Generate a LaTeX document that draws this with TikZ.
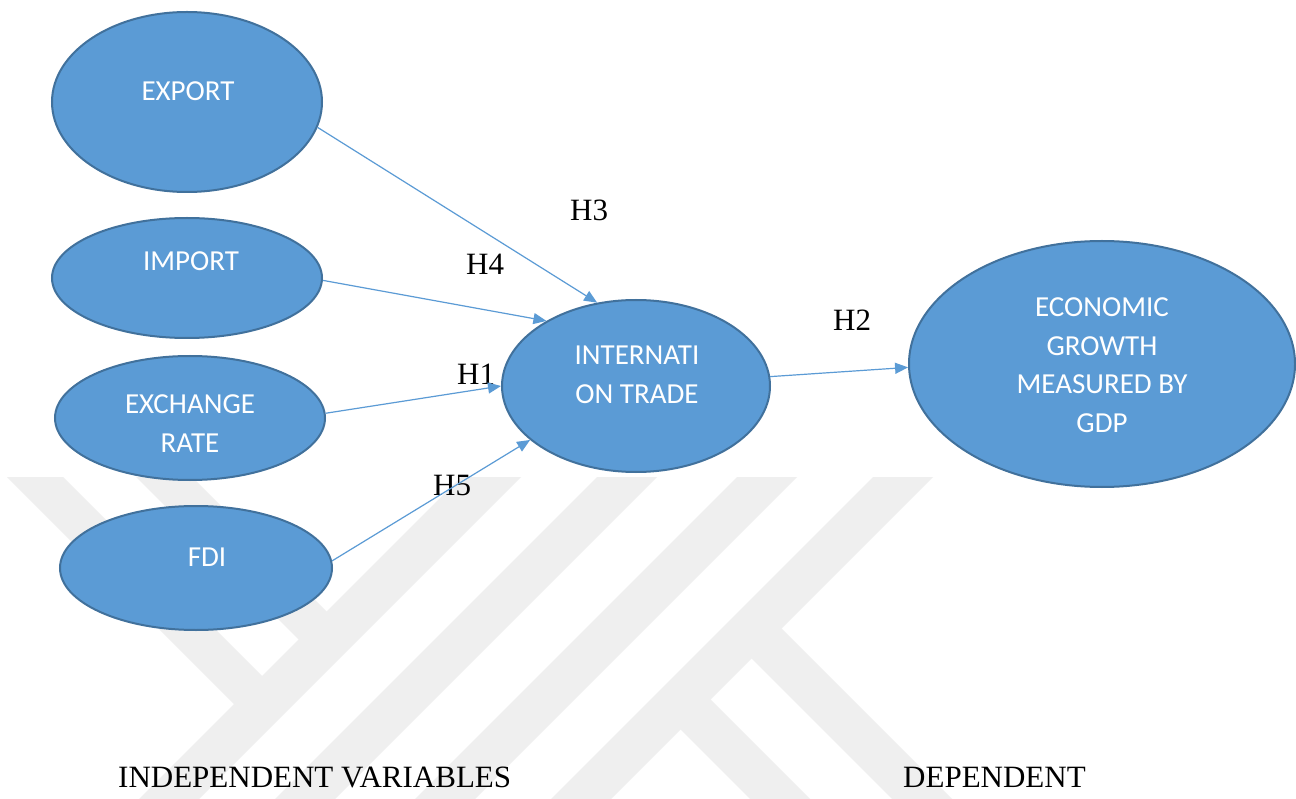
\documentclass[tikz,border=0pt]{standalone}
\usepackage{fontspec}
\setmainfont{Liberation Serif}
\newfontfamily\bubblefont{Carlito}
\usetikzlibrary{shapes.geometric,arrows.meta}
\definecolor{bubblefill}{HTML}{5B9BD5}
\definecolor{bubbleedge}{HTML}{41719C}
\definecolor{linkblue}{HTML}{5B9BD5}
\definecolor{markgray}{HTML}{EFEFEF}

\begin{document}
\begin{tikzpicture}[x=1pt,y=-1pt,
  bubble/.style={ellipse, fill=bubblefill, draw=bubbleedge, line width=2pt, inner sep=0pt},
  bubbletext/.style={text=white, font=\bubblefont\fontsize{29}{38.5}\selectfont,
                     align=center, inner sep=0pt, anchor=base},
  hyp/.style={font=\fontsize{31}{36}\selectfont, inner sep=0pt, anchor=base west},
  caption/.style={font=\fontsize{31}{36}\selectfont, inner sep=0pt, anchor=base west},
  link/.style={draw=linkblue, line width=1.2pt, -{Triangle[length=13pt,width=11pt]}}
]
\useasboundingbox (0,0) rectangle (1296,799);
\fill[white] (0,0) rectangle (1296,799);

% faint background emblem: diagonal stripes
\fill[markgray] (461,477) -- (521,477) -- (199,799) -- (139,799) -- cycle;
\fill[markgray] (597,477) -- (657,477) -- (335,799) -- (275,799) -- cycle;
\fill[markgray] (737,477) -- (797,477) -- (475,799) -- (415,799) -- cycle;
\fill[markgray] (873,477) -- (933,477) -- (611,799) -- (551,799) -- cycle;
\fill[markgray] (7,477) -- (63,477) -- (277,691) -- (249,719) -- cycle;
\fill[markgray] (136,477) -- (192,477) -- (341.5,626.5) -- (313.5,654.5) -- cycle;
\fill[markgray] (695.5,684.5) -- (810,799) -- (750,799) -- (665.5,714.5) -- cycle;
\fill[markgray] (766.5,613.5) -- (952,799) -- (892,799) -- (736.5,643.5) -- cycle;

% hypothesis labels
\node[hyp] (h3) at (570,221) {H3};
\node[hyp] (h4) at (466,275) {H4};
\node[hyp] (h1) at (457,385) {H1};
\node[hyp] (h5) at (433,495) {H5};
\node[hyp] (h2) at (833,331) {H2};

% variables
\node[bubble, minimum width=270, minimum height=180] (export) at (187,102) {};
\node[bubble, minimum width=270, minimum height=120] (import) at (187,278) {};
\node[bubble, minimum width=270, minimum height=124] (exch)   at (190,418) {};
\node[bubble, minimum width=272, minimum height=124] (fdi)    at (196,568) {};
\node[bubble, minimum width=268, minimum height=172] (inter)  at (636,386) {};
\node[bubble, minimum width=386, minimum height=246] (econ)   at (1102,364) {};

% multi-line labels are placed by the baseline of their last line
\node[bubbletext] (texport) at (188,101) {EXPORT};
\node[bubbletext] (timport) at (191,271) {IMPORT};
\node[bubbletext] (texch)   at (190,452) {EXCHANGE\\RATE};
\node[bubbletext] (tfdi)    at (207,566) {FDI};
\node[bubbletext] (tinter)  at (637,403) {INTERNATI\\ON TRADE};
\node[bubbletext] (tecon)   at (1102,432) {ECONOMIC\\GROWTH\\MEASURED BY\\GDP};

% connectors
\draw[link] (export.-11) -- (inter.115);
\draw[link] (import.-1)  -- (inter.144);
\draw[link] (exch.2)     -- (inter.180);
\draw[link] (fdi.3)      -- (inter.207);
\draw[link] (inter.4)    -- (econ.181);

% captions
\node[caption] (indep) at (118,787) {INDEPENDENT VARIABLES};
\node[caption] (dep)   at (903,787) {DEPENDENT};
\end{tikzpicture}
\end{document}
